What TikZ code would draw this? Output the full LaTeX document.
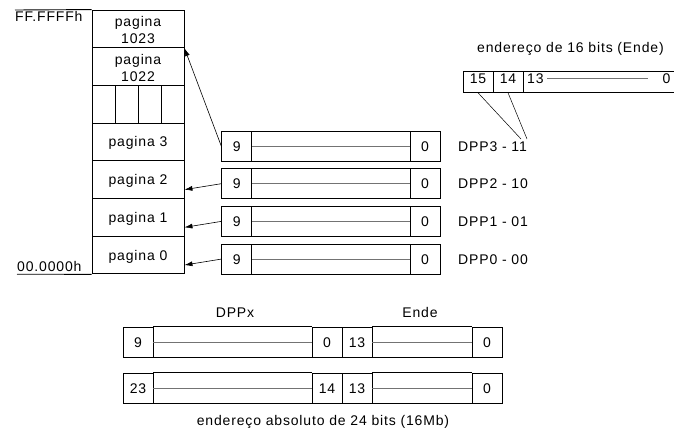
\documentclass[tikz,border=0pt]{standalone}
\usepackage{fontspec}
\setmainfont{Liberation Sans}[LetterSpace=6]
\usetikzlibrary{arrows.meta}
\begin{document}
\begin{tikzpicture}[x=1pt,y=-1pt,
  lw/.style={line width=0.9pt},
  pagebox/.style={draw,lw,inner sep=0pt,minimum width=92pt,minimum height=37.7pt},
  regbox/.style={draw,lw,inner sep=0pt,minimum width=218.3pt,minimum height=30pt},
  cell/.style={draw,lw,inner sep=0pt,minimum width=30pt,minimum height=30pt,
    text height=10pt,text depth=0pt,font=\fontsize{14}{16}\selectfont},
  txt/.style={inner sep=0pt,text height=10pt,text depth=0pt,font=\fontsize{14}{16}\selectfont},
  basetxt/.style={inner sep=0pt,anchor=base,font=\fontsize{14}{16}\selectfont},
  rule/.style={draw=black!55,line width=0.45pt},
  ptr/.style={line width=0.6pt,-{Latex[length=8pt,width=5pt]}},
  thin/.style={line width=0.5pt}]
\useasboundingbox (0,0) rectangle (674,434);
\clip (0,0) rectangle (674,434);

% ---- memory column (pages) ----
\node[pagebox] (p1023) at (138,28.85) {};
\node[pagebox] (p1022) at (138,66.55) {};
\node[pagebox] (pdots) at (138,104.25) {};
\node[pagebox] (p3) at (138,141.95) {};
\node[pagebox] (p2) at (138,179.65) {};
\node[pagebox] (p1) at (138,217.35) {};
\node[pagebox] (p0) at (138,255.05) {};

\node[basetxt] (t1023a) at (138,26) {pagina};
\node[basetxt] (t1023b) at (138,43) {1023};
\node[basetxt] (t1022a) at (138,64) {pagina};
\node[basetxt] (t1022b) at (138,81) {1022};
\node[txt] (t3) at (p3) {pagina 3};
\node[txt] (t2) at (p2) {pagina 2};
\node[txt] (t1) at (p1) {pagina 1};
\node[txt] (t0) at (p0) {pagina 0};

% elided pages
\foreach \xx in {115,138,161}
  \draw[thin] (\xx,85.4) -- (\xx,123.1);

% address limits
\coordinate (toplimit) at (15,10);
\coordinate (botlimit) at (17,274.2);
\draw[lw] (toplimit) -- (p1023.north west);
\draw[lw] (botlimit) -- (p0.south west);
\node[basetxt,anchor=base west] (ffff) at (15,21) {FF.FFFFh};
\node[basetxt,anchor=base west] (zero) at (17,271) {00.0000h};

% ---- DPP registers ----
\foreach \i/\yc/\lab in {3/146/{DPP3 - 11},2/183.7/{DPP2 - 10},1/221.4/{DPP1 - 01},0/259.1/{DPP0 - 00}} {
  \node[regbox] (reg\i) at (330.85,\yc) {};
  \node[cell] (reghi\i) at (236.7,\yc) {9};
  \node[cell] (reglo\i) at (425,\yc) {0};
  \draw[rule] (reghi\i.east) -- (reglo\i.west);
  \node[txt,anchor=west] (dpp\i) at (458,\yc) {\lab};
}

% page pointers
\draw[ptr] (reg3.west) -- (p1023.south east);
\draw[ptr] (reg2.west) -- ([yshift=-10pt]p2.east);
\draw[ptr] (reg1.west) -- ([yshift=-10pt]p1.east);
\draw[ptr] (reg0.west) -- ([yshift=-10pt]p0.east);

% ---- 16-bit address (runs past the right edge) ----
\node[basetxt,anchor=base west] (ende16) at (477,52.7) {endereço de 16 bits (Ende)};
\node[draw,lw,inner sep=0pt,minimum width=30pt,minimum height=20.6pt] (b15) at (478,82) {};
\node[draw,lw,inner sep=0pt,minimum width=30pt,minimum height=20.6pt] (b14) at (508,82) {};
\node[draw,lw,inner sep=0pt,minimum width=220pt,minimum height=20.6pt,anchor=west] (blow) at (b14.east) {};
\node[basetxt] (t15) at (478,83.5) {15};
\node[basetxt] (t14) at (508,83.5) {14};
\node[basetxt,anchor=base west] (t13) at (527,83.5) {13};
\node[basetxt] (t0top) at (666.5,83.5) {0};
\coordinate (rs) at (547,78);
\coordinate (re) at (648,78);
\draw[rule] (rs) -- (re);
\coordinate (sel1) at (521,139);
\coordinate (sel2) at (527,139);
\draw[thin] (b15.south) -- (sel1);
\draw[thin] (b14.south) -- (sel2);

% ---- 24-bit absolute address ----
\node[basetxt] (dppx) at (235,317) {DPPx};
\node[basetxt] (endel) at (420,317) {Ende};

\node[cell] (a9) at (138,342) {9};
\node[cell] (a0) at (327,342) {0};
\node[cell] (a13) at (357,342) {13};
\node[cell] (az) at (487,342) {0};
\draw[lw] (a9.north east) -- (a0.north west) (a9.south east) -- (a0.south west);
\draw[lw] (a13.north east) -- (az.north west) (a13.south east) -- (az.south west);
\draw[rule] (a9.east) -- (a0.west);
\draw[rule] (a13.east) -- (az.west);

\node[cell] (b23) at (138,388) {23};
\node[cell] (b14r) at (327,388) {14};
\node[cell] (b13r) at (357,388) {13};
\node[cell] (bz) at (487,388) {0};
\draw[lw] (b23.north east) -- (b14r.north west) (b23.south east) -- (b14r.south west);
\draw[lw] (b13r.north east) -- (bz.north west) (b13r.south east) -- (bz.south west);
\draw[rule] (b23.east) -- (b14r.west);
\draw[rule] (b13r.east) -- (bz.west);

\node[basetxt] (abs24) at (323,425) {endereço absoluto de 24 bits (16Mb)};
\end{tikzpicture}
\end{document}
